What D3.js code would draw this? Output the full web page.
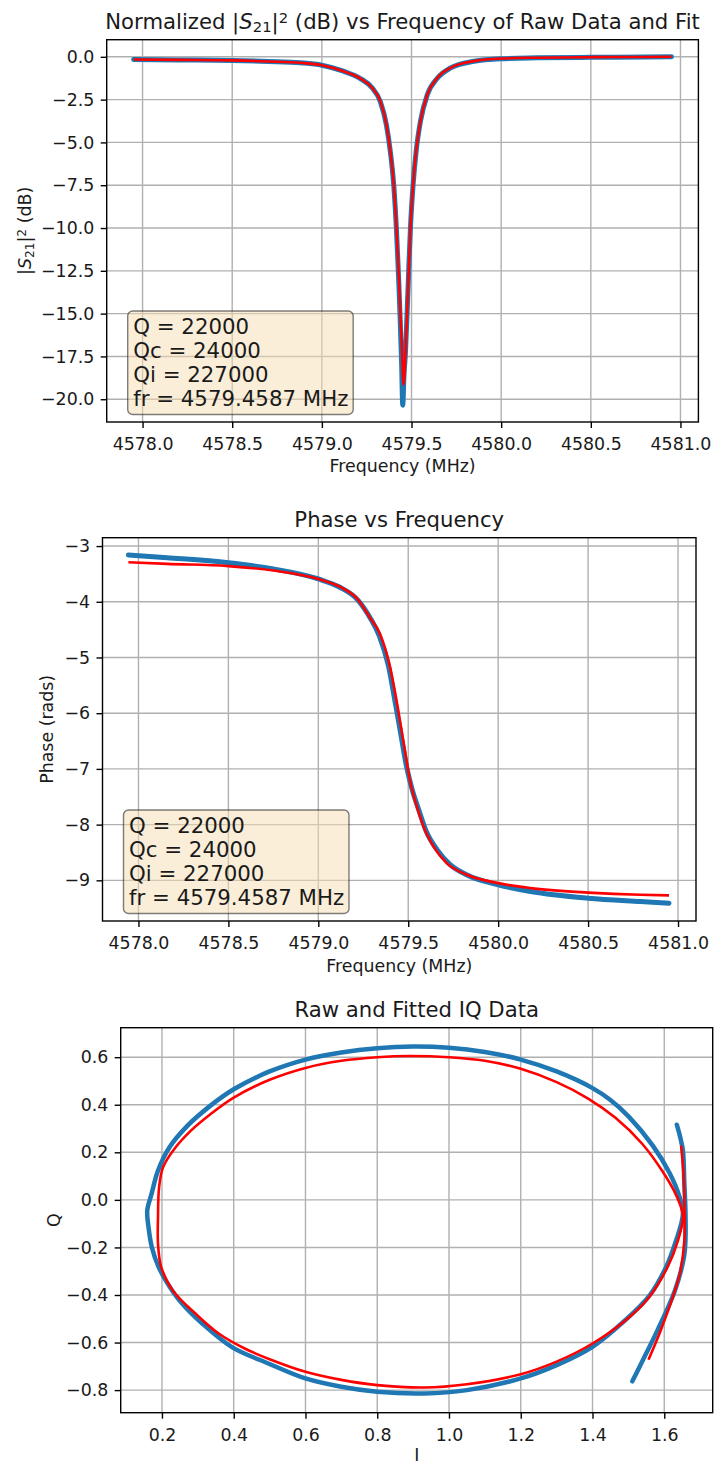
<!DOCTYPE html>
<html lang="en">
<head>
<meta charset="utf-8">
<title>Resonator fit</title>
<script src="https://d3js.org/d3.v7.min.js"></script>
<style>
body{
  margin:0;
  background:#fff;
}
svg text{
  font-family:"DejaVu Sans",sans-serif;
  fill:#1a1a1a;
}
.grid line{
  stroke:#b0b0b0;
  stroke-width:1.4;
}
.axis line{
  stroke:#000;
  stroke-width:1.4;
}
.axis text{
  font-size:17.4px;
}
.frame{
  fill:none;
  stroke:#000;
  stroke-width:1.4;
}
.raw{
  fill:none;
  stroke:#1f77b4;
  stroke-width:5;
  stroke-linecap:round;
  stroke-linejoin:round;
}
.iq .raw{stroke-width:4.5;}
.fit{
  fill:none;
  stroke:#ff0000;
  stroke-width:2.6;
  stroke-linejoin:round;
}
.title{font-size:21.2px;}
.label{font-size:17.4px;}
.box rect{
  fill:#f5deb3;
  fill-opacity:0.5;
  stroke:#000;
  stroke-opacity:0.5;
  stroke-width:1.4;
}
.box text{font-size:21.3px;}
</style>
</head>
<body>
<div id="chart"></div>
<script>
// ---- |S21|^2 vs frequency ----
const s21FreqRaw = [4577.95, 4578.2, 4578.5, 4578.7, 4578.88, 4579.0, 4579.12, 4579.215, 4579.28, 4579.326,
  4579.36, 4579.382, 4579.401, 4579.416, 4579.428, 4579.437, 4579.445, 4579.451, 4579.458, 4579.466,
  4579.476, 4579.485, 4579.494, 4579.509, 4579.526, 4579.55, 4579.588, 4579.644, 4579.718, 4579.849,
  4580.0, 4580.2, 4580.5, 4580.8, 4580.95];
const s21Raw = [-0.16, -0.18, -0.21, -0.27, -0.35, -0.49, -0.84, -1.27, -1.81, -2.62,
  -3.98, -5.55, -7.5, -10.1, -12.9, -15.4, -18.0, -20.35, -18.6, -17.3,
  -14.8, -12.3, -10.0, -7.45, -5.5, -3.76, -2.22, -1.25, -0.65, -0.26,
  -0.11, -0.06, -0.03, -0.01, 0.0];
const s21FreqFit = [4577.95, 4578.2, 4578.5, 4578.7, 4578.88, 4579.0, 4579.12, 4579.215, 4579.28, 4579.326,
  4579.36, 4579.382, 4579.401, 4579.416, 4579.429, 4579.438, 4579.448, 4579.455, 4579.466, 4579.476,
  4579.485, 4579.494, 4579.509, 4579.526, 4579.55, 4579.588, 4579.644, 4579.718, 4579.849, 4580.0,
  4580.2, 4580.5, 4580.8, 4580.95];
const s21Fit = [-0.16, -0.18, -0.21, -0.27, -0.35, -0.49, -0.84, -1.27, -1.81, -2.59,
  -3.95, -5.51, -7.46, -9.99, -12.71, -15.05, -17.39, -19.14, -17.39, -14.86,
  -12.32, -9.99, -7.46, -5.51, -3.76, -2.2, -1.23, -0.64, -0.25, -0.1,
  -0.05, -0.02, -0.01, 0.0];
const s21Ticks = [0, -2.5, -5, -7.5, -10, -12.5, -15, -17.5, -20];

// ---- phase vs frequency ----
const phaseFreqRaw = [4577.944, 4578.16, 4578.5, 4578.75, 4579.0, 4579.12, 4579.22, 4579.29, 4579.34, 4579.39,
  4579.43, 4579.46, 4579.49, 4579.52, 4579.56, 4579.60, 4579.66, 4579.73, 4579.83, 4580.0,
  4580.18, 4580.5, 4580.79, 4580.95];
const phaseRaw = [-3.16, -3.21, -3.30, -3.41, -3.59, -3.74, -3.97, -4.30, -4.62, -5.15,
  -5.85, -6.40, -6.95, -7.35, -7.75, -8.12, -8.45, -8.71, -8.91, -9.08,
  -9.20, -9.32, -9.38, -9.41];
const phaseFreqFit = [4577.944, 4578.16, 4578.5, 4578.75, 4579.0, 4579.12, 4579.22, 4579.29, 4579.342, 4579.398,
  4579.444, 4579.481, 4579.509, 4579.547, 4579.584, 4579.64, 4579.714, 4579.826, 4580.0, 4580.18,
  4580.5, 4580.79, 4580.95];
const phaseFit = [-3.29, -3.32, -3.36, -3.44, -3.59, -3.73, -3.96, -4.30, -4.57, -5.16,
  -5.94, -6.66, -7.20, -7.67, -8.03, -8.39, -8.69, -8.90, -9.05, -9.14,
  -9.22, -9.26, -9.27];
const phaseTicks = [-3, -4, -5, -6, -7, -8, -9];
const freqTicks = [4578.0, 4578.5, 4579.0, 4579.5, 4580.0, 4580.5, 4581.0];

// ---- IQ plane ----
const iqLoopRawI = [1.652, 1.642, 1.614, 1.567, 1.501, 1.45, 1.4, 1.3, 1.2, 1.1,
  1.0, 0.9, 0.8, 0.7, 0.6, 0.5, 0.4, 0.33, 0.27, 0.221,
  0.189, 0.171, 0.159, 0.163, 0.172, 0.19, 0.215, 0.249, 0.313, 0.395,
  0.5, 0.6, 0.7, 0.8, 0.93, 1.05, 1.2, 1.3, 1.4, 1.492,
  1.56, 1.605, 1.633];
const iqLoopRawQ = [-0.059, 0.015, 0.115, 0.23, 0.35, 0.42, 0.47, 0.54, 0.59, 0.622,
  0.64, 0.645, 0.638, 0.62, 0.59, 0.54, 0.465, 0.39, 0.31, 0.221,
  0.123, 0.025, -0.045, -0.12, -0.2, -0.28, -0.35, -0.423, -0.521, -0.619,
  -0.69, -0.751, -0.786, -0.807, -0.814, -0.80, -0.751, -0.695, -0.618, -0.505,
  -0.4, -0.283, -0.171];
const iqTailRawI = [1.635, 1.645, 1.652, 1.656, 1.659, 1.659, 1.655, 1.63, 1.581, 1.545, 1.511];
const iqTailRawQ = [0.316, 0.26, 0.207, 0.067, -0.045, -0.171, -0.24, -0.38, -0.549, -0.66, -0.763];
const iqLoopFitI = [1.652, 1.633, 1.595, 1.539, 1.464, 1.389, 1.3, 1.2, 1.1, 1.0,
  0.89, 0.8, 0.7, 0.6, 0.5, 0.4, 0.335, 0.28, 0.235, 0.203,
  0.192, 0.189, 0.189, 0.198, 0.230, 0.294, 0.359, 0.432, 0.5, 0.6,
  0.7, 0.8, 0.93, 1.05, 1.2, 1.3, 1.4, 1.505, 1.555, 1.609,
  1.638];
const iqLoopFitQ = [-0.066, 0.02, 0.12, 0.235, 0.345, 0.425, 0.495, 0.551, 0.585, 0.600,
  0.605, 0.600, 0.585, 0.555, 0.505, 0.43, 0.36, 0.29, 0.215, 0.137,
  0.053, -0.073, -0.185, -0.283, -0.381, -0.479, -0.563, -0.626, -0.67, -0.723,
  -0.757, -0.779, -0.789, -0.775, -0.733, -0.68, -0.604, -0.49, -0.415, -0.283,
  -0.171];
const iqTailFitI = [1.647, 1.654, 1.656, 1.656, 1.645, 1.63, 1.59, 1.556];
const iqTailFitQ = [0.228, 0.1, -0.003, -0.171, -0.30, -0.381, -0.549, -0.672];
const iTicks = [0.2, 0.4, 0.6, 0.8, 1.0, 1.2, 1.4, 1.6];
const qTicks = [0.6, 0.4, 0.2, 0.0, -0.2, -0.4, -0.6, -0.8];

const boxLines = ["Q = 22000", "Qc = 24000", "Qi = 227000", "fr = 4579.4587 MHz"];

var svg = d3.select("#chart").append("svg")
  .attr("width", 714)
  .attr("height", 1463);

function zip(a, b) { return a.map(function(d, i) { return [d, b[i]]; }); }

function drawPanel(p) {
  var x = d3.scaleLinear().domain(p.xDomain).range([p.left, p.right]);
  var y = d3.scaleLinear().domain(p.yDomain).range([p.bottom, p.top]);
  var g = svg.append("g").attr("class", p.cls || null);

  var grid = g.append("g").attr("class", "grid");
  grid.selectAll(".gx").data(p.xTicks).join("line").attr("class", "gx")
    .attr("x1", d => x(d)).attr("x2", d => x(d))
    .attr("y1", p.top).attr("y2", p.bottom);
  grid.selectAll(".gy").data(p.yTicks).join("line").attr("class", "gy")
    .attr("y1", d => y(d)).attr("y2", d => y(d))
    .attr("x1", p.left).attr("x2", p.right);

  var xa = g.append("g").attr("class", "axis")
    .attr("transform", "translate(0," + p.bottom + ")")
    .call(d3.axisBottom(x).tickValues(p.xTicks).tickFormat(p.xFormat).tickSize(6).tickPadding(9.5));
  var ya = g.append("g").attr("class", "axis")
    .attr("transform", "translate(" + p.left + ",0)")
    .call(d3.axisLeft(y).tickValues(p.yTicks).tickFormat(p.yFormat).tickSize(6).tickPadding(6.4));
  [xa, ya].forEach(function(a) {
    a.attr("font-size", null).attr("font-family", null);
    a.select(".domain").remove();
  });

  return {x: x, y: y, g: g};
}

function finishPanel(p, P) {
  P.g.append("rect").attr("class", "frame")
    .attr("x", p.left).attr("y", p.top)
    .attr("width", p.right - p.left).attr("height", p.bottom - p.top);

  var cx = (p.left + p.right) / 2;
  P.g.append("text").attr("class", "label")
    .attr("x", cx).attr("y", p.xLabelY)
    .attr("text-anchor", "middle").text(p.xLabel);
}

function drawBox(P, p) {
  var bx = p.left + 21, bh = 103.5, by = p.bottom - 7.5 - bh;
  var box = P.g.append("g").attr("class", "box");
  box.append("rect").attr("x", bx).attr("y", by)
    .attr("width", 225.5).attr("height", bh).attr("rx", 5);
  box.selectAll("text").data(boxLines).join("text")
    .attr("x", bx + 5.5)
    .attr("y", (d, i) => by + 22.5 + i * 24)
    .text(d => d);
}

// ===== panel 1 =====
var p1 = {left: 106.7, right: 698.4, top: 39.7, bottom: 422,
  xDomain: [4577.8, 4581.1], yDomain: [-21.33, 1.0],
  xTicks: freqTicks, yTicks: s21Ticks,
  xFormat: d3.format(".1f"), yFormat: d3.format(".1f"),
  xLabel: "Frequency (MHz)", xLabelY: 472};
var P1 = drawPanel(p1);
var line1 = d3.line().x(d => P1.x(d[0])).y(d => P1.y(d[1])).curve(d3.curveMonotoneX);
P1.g.append("path").attr("class", "raw").attr("d", line1(zip(s21FreqRaw, s21Raw)));
P1.g.append("path").attr("class", "fit").attr("d", line1(zip(s21FreqFit, s21Fit)));
finishPanel(p1, P1);
drawBox(P1, p1);

var t1 = svg.append("text").attr("class", "title")
  .attr("x", (p1.left + p1.right) / 2).attr("y", p1.top - 10.5)
  .attr("text-anchor", "middle");
t1.append("tspan").text("Normalized |");
t1.append("tspan").attr("font-style", "italic").text("S");
t1.append("tspan").attr("baseline-shift", "-22%").attr("font-size", "14.8px").text("21");
t1.append("tspan").text("|");
t1.append("tspan").attr("baseline-shift", "38%").attr("font-size", "14.8px").text("2");
t1.append("tspan").text(" (dB) vs Frequency of Raw Data and Fit");

var yl1 = svg.append("text").attr("class", "label")
  .attr("transform", "translate(31," + ((p1.top + p1.bottom) / 2) + ") rotate(-90)")
  .attr("text-anchor", "middle");
yl1.append("tspan").text("|");
yl1.append("tspan").attr("font-style", "italic").text("S");
yl1.append("tspan").attr("baseline-shift", "-22%").attr("font-size", "12.2px").text("21");
yl1.append("tspan").text("|");
yl1.append("tspan").attr("baseline-shift", "38%").attr("font-size", "12.2px").text("2");
yl1.append("tspan").text(" (dB)");

// ===== panel 2 =====
var p2 = {left: 102.5, right: 696, top: 537.7, bottom: 921,
  xDomain: [4577.8, 4581.1], yDomain: [-9.73, -2.85],
  xTicks: freqTicks, yTicks: phaseTicks,
  xFormat: d3.format(".1f"), yFormat: d3.format("d"),
  xLabel: "Frequency (MHz)", xLabelY: 971.5};
var P2 = drawPanel(p2);
var line2 = d3.line().x(d => P2.x(d[0])).y(d => P2.y(d[1])).curve(d3.curveMonotoneX);
P2.g.append("path").attr("class", "raw").attr("d", line2(zip(phaseFreqRaw, phaseRaw)));
P2.g.append("path").attr("class", "fit").attr("d", line2(zip(phaseFreqFit, phaseFit)));
finishPanel(p2, P2);
drawBox(P2, p2);

svg.append("text").attr("class", "title")
  .attr("x", (p2.left + p2.right) / 2).attr("y", p2.top - 10.5)
  .attr("text-anchor", "middle").text("Phase vs Frequency");
svg.append("text").attr("class", "label")
  .attr("transform", "translate(53," + ((p2.top + p2.bottom) / 2) + ") rotate(-90)")
  .attr("text-anchor", "middle").text("Phase (rads)");

// ===== panel 3 =====
var p3 = {left: 120.7, right: 712.7, top: 1027.7, bottom: 1412.7, cls: "iq",
  xDomain: [0.085, 1.735], yDomain: [-0.895, 0.724],
  xTicks: iTicks, yTicks: qTicks,
  xFormat: d3.format(".1f"), yFormat: d3.format(".1f"),
  xLabel: "I", xLabelY: 1460.5};
var P3 = drawPanel(p3);
var loop3 = d3.line().x(d => P3.x(d[0])).y(d => P3.y(d[1])).curve(d3.curveCatmullRomClosed);
var open3 = d3.line().x(d => P3.x(d[0])).y(d => P3.y(d[1])).curve(d3.curveCatmullRom);
P3.g.append("path").attr("class", "raw").attr("d", loop3(zip(iqLoopRawI, iqLoopRawQ)));
P3.g.append("path").attr("class", "raw").attr("d", open3(zip(iqTailRawI, iqTailRawQ)));
P3.g.append("path").attr("class", "fit").attr("d", loop3(zip(iqLoopFitI, iqLoopFitQ)));
P3.g.append("path").attr("class", "fit").attr("d", open3(zip(iqTailFitI, iqTailFitQ)));
finishPanel(p3, P3);

svg.append("text").attr("class", "title")
  .attr("x", (p3.left + p3.right) / 2).attr("y", p3.top - 10.5)
  .attr("text-anchor", "middle").text("Raw and Fitted IQ Data");
svg.append("text").attr("class", "label")
  .attr("transform", "translate(60," + ((p3.top + p3.bottom) / 2) + ") rotate(-90)")
  .attr("text-anchor", "middle").text("Q");
</script>
</body>
</html>
